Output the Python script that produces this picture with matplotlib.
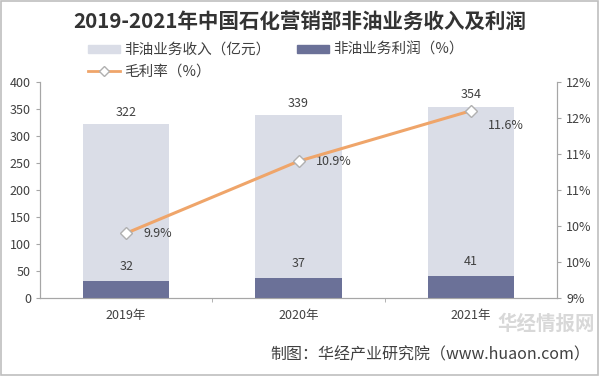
import matplotlib
matplotlib.use("Agg")
import matplotlib.pyplot as plt
from matplotlib.patches import Rectangle
from matplotlib.lines import Line2D

plt.rcParams['font.family'] = ['Noto Sans CJK SC', 'DejaVu Sans']

years = ['2019年', '2020年', '2021年']
revenue = [322, 339, 354]
profit = [32, 37, 41]
margin = [9.9, 10.9, 11.6]

light = '#DADDE7'
dark = '#6B7198'
orange = '#EFA56A'
gray = '#A6A6A6'
txt = '#404040'

fig = plt.figure(figsize=(6, 3.76), dpi=100)
ax = fig.add_axes([40/600, 1-298/376, 517/600, 216/376])
x = list(range(len(years)))
ax.bar(x, revenue, width=0.5, color=light, zorder=2)
ax.bar(x, profit, width=0.5, color=dark, zorder=3)
ax.set_xlim(-0.5, 2.5)
ax.set_ylim(0, 400)
ax.set_yticks(range(0, 401, 50))
ax.set_xticks(x)
ax.set_xticklabels(years)
ax.tick_params(axis='x', length=0, pad=8, labelsize=9, colors=txt)
ax.tick_params(axis='y', length=3, color=gray, labelsize=9, colors=txt)
ax.set_xticks([0.5, 1.5], minor=True)
ax.tick_params(axis='x', which='minor', length=3, color=gray)
ax.spines['top'].set_visible(False)
for s in ['left', 'right', 'bottom']:
    ax.spines[s].set_color(gray)
for xi, v in zip(x, revenue):
    ax.text(xi, v + 10, str(v), ha='center', va='bottom', fontsize=9, color=txt)
for xi, v in zip(x, profit):
    ax.text(xi, v + 14, str(v), ha='center', va='bottom', fontsize=9, color=txt)

ax2 = ax.twinx()
rticks = [9, 9.5, 10, 10.5, 11, 11.5, 12]
ax2.set_ylim(9, 12)
ax2.set_yticks(rticks)
ax2.set_yticklabels(['%d%%' % round(v + 0.001) for v in rticks])
ax2.tick_params(axis='y', length=3, color=gray, labelsize=9, colors=txt)
ax2.spines['top'].set_visible(False)
for s in ['left', 'right', 'bottom']:
    ax2.spines[s].set_color(gray)
ax2.plot(x, margin, color=orange, lw=2.2, marker='D', ms=6, mfc='white', mec='#B0B0B0', mew=1, zorder=5)
offsets = [0, 0, -0.2]
for xi, v, o in zip(x, margin, offsets):
    ax2.text(xi + 0.1, v + o, '%.1f%%' % v, ha='left', va='center', fontsize=9, color=txt)

fig.text(0.5, 1-22/376, '2019-2021年中国石化营销部非油业务收入及利润', ha='center', va='center',
         fontsize=14.8, fontweight='bold', color='#333333')
handles = [Rectangle((0, 0), 1, 1, color=light), Rectangle((0, 0), 1, 1, color=dark)]
fig.legend(handles, ['非油业务收入（亿元）', '非油业务利润（%）'], loc='center left',
           bbox_to_anchor=(85/600, 1-50/376),
           ncol=2, frameon=False, fontsize=10.5, handlelength=2.2, handleheight=0.5, columnspacing=1.8,
           handletextpad=0.3, labelcolor=txt, borderaxespad=0, borderpad=0.2)
fig.legend([Line2D([0], [0], color=orange, lw=2, marker='D', ms=5, mfc='white', mec='#B0B0B0')],
           ['毛利率（%）'], loc='center left', bbox_to_anchor=(85/600, 1-72/376), frameon=False,
           fontsize=10.5, handlelength=2.2, handletextpad=0.3, labelcolor=txt, borderaxespad=0, borderpad=0.2)

fig.text(497/600, 1-324/376, '华经情报网', fontsize=14, color='#D8D8D8', ha='left', va='center', fontweight='bold')
fig.text(590/600, 1-355/376, '制图：华经产业研究院（www.huaon.com）', fontsize=11.5, color=txt, ha='right', va='center')

fig.add_artist(Rectangle((0.002, 0.003), 0.995, 0.994, transform=fig.transFigure, fill=False, ec='#BFBFBF', lw=1.2))
fig.savefig('out.png', dpi=100)
